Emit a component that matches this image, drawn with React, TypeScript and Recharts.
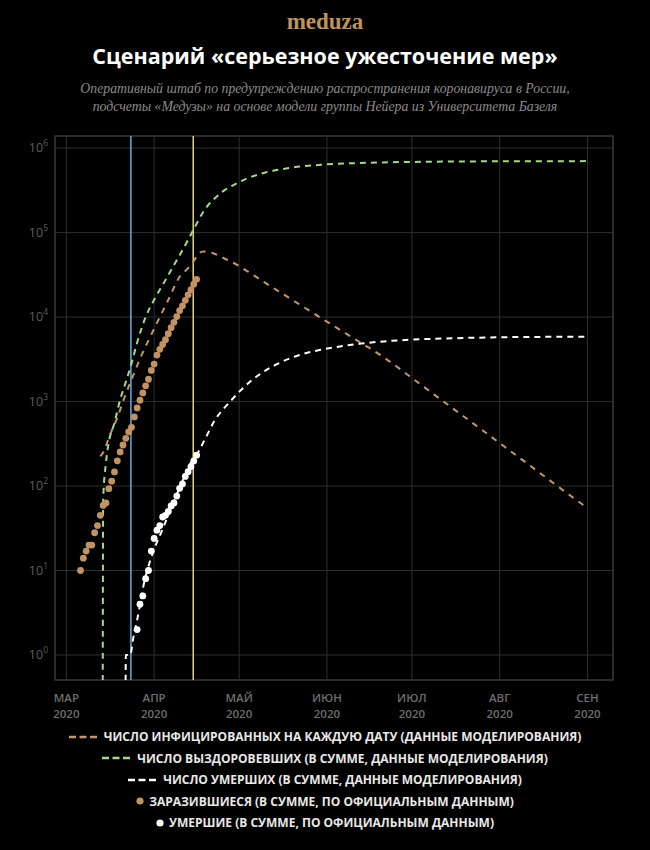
import React from 'react';
import {
  ComposedChart,
  Line,
  Scatter,
  XAxis,
  YAxis,
  CartesianGrid,
  ReferenceLine,
  ReferenceArea,
} from 'recharts';

// days counted from 1 March 2020
const monthTicks = [0, 31, 61, 92, 122, 153, 184];
const monthNames = ['МАР', 'АПР', 'МАЙ', 'ИЮН', 'ИЮЛ', 'АВГ', 'СЕН'];
const yearLabel = '2020';
const powerTicks = [1, 10, 100, 1000, 10000, 100000, 1000000];

const xDomain = [-4, 193];
const yDomain = [0.506, 1390000];

const blueMarkDay = 22.8;
const yellowMarkDay = 44.8;

// model: infected on each date
const infectedModel = [
  { day: 12, v: 225 }, { day: 13, v: 250 }, { day: 14, v: 300 }, { day: 15, v: 370 },
  { day: 16, v: 450 }, { day: 18, v: 640 }, { day: 20, v: 1000 }, { day: 22, v: 1500 },
  { day: 24, v: 2200 }, { day: 26, v: 3200 }, { day: 28, v: 4500 }, { day: 30, v: 6200 },
  { day: 33, v: 10000 }, { day: 36, v: 16000 }, { day: 40, v: 30000 }, { day: 43, v: 38000 },
  { day: 45, v: 46000 }, { day: 46, v: 52000 }, { day: 47, v: 57000 }, { day: 48, v: 59500 },
  { day: 49, v: 59800 }, { day: 50, v: 59000 }, { day: 52, v: 56500 }, { day: 56, v: 49000 },
  { day: 60, v: 42000 }, { day: 63, v: 36500 }, { day: 70, v: 25700 }, { day: 80, v: 15800 },
  { day: 90, v: 9700 }, { day: 100, v: 6000 }, { day: 112, v: 3350 }, { day: 125, v: 1600 },
  { day: 135, v: 900 }, { day: 145, v: 510 }, { day: 153, v: 322 }, { day: 165, v: 162 },
  { day: 175, v: 91 }, { day: 184, v: 55 },
];

// model: recovered, cumulative
const recoveredModel = [
  { day: 12.8, v: 0.01 }, { day: 13, v: 68 }, { day: 14, v: 190 }, { day: 15, v: 330 },
  { day: 17, v: 560 }, { day: 19, v: 1050 }, { day: 21, v: 1700 }, { day: 23, v: 2800 },
  { day: 25, v: 5000 }, { day: 28, v: 10000 }, { day: 31, v: 16000 }, { day: 34, v: 24000 },
  { day: 37, v: 36000 }, { day: 40, v: 54000 }, { day: 43, v: 82000 }, { day: 45, v: 110000 },
  { day: 48, v: 168000 }, { day: 50, v: 210000 }, { day: 53, v: 265000 }, { day: 56, v: 320000 },
  { day: 59, v: 365000 }, { day: 64, v: 440000 }, { day: 70, v: 510000 }, { day: 75, v: 555000 },
  { day: 80, v: 590000 }, { day: 90, v: 635000 }, { day: 100, v: 660000 }, { day: 112, v: 677000 },
  { day: 130, v: 690000 }, { day: 150, v: 697000 }, { day: 184, v: 701000 },
];

// model: deaths, cumulative
const deathsModel = [
  { day: 20.8, v: 0.01 }, { day: 21, v: 1 }, { day: 22.6, v: 1 }, { day: 23.5, v: 1.5 },
  { day: 25, v: 2.6 }, { day: 27.6, v: 7.5 }, { day: 30.5, v: 16 }, { day: 34, v: 31 },
  { day: 38, v: 66 }, { day: 41, v: 115 }, { day: 44, v: 190 }, { day: 46.5, v: 250 },
  { day: 49.5, v: 390 }, { day: 52.4, v: 600 }, { day: 55.5, v: 820 }, { day: 58.3, v: 1040 },
  { day: 61.5, v: 1350 }, { day: 64.7, v: 1700 }, { day: 68.9, v: 2170 }, { day: 75.2, v: 2860 },
  { day: 82.3, v: 3550 }, { day: 89.4, v: 4070 }, { day: 96, v: 4450 }, { day: 104, v: 4850 },
  { day: 112, v: 5150 }, { day: 122, v: 5400 }, { day: 140, v: 5650 }, { day: 160, v: 5800 },
  { day: 184, v: 5850 },
];

// official data, one value per day
const casesFirstDay = 5;
const officialCases = [
  10, 14, 17, 20, 20, 28, 34, 45, 59, 63, 93, 114, 147, 199, 253, 306, 367, 438, 495, 658,
  840, 1036, 1264, 1534, 1836, 2337, 2777, 3548, 4149, 4731, 5389, 6343, 7497, 8672, 10131,
  11917, 13584, 15770, 18328, 21102, 24490, 27938,
];
const deathsFirstDay = 25;
const officialDeaths = [
  2, 4, 5, 8, 10, 17, 24, 30, 34, 43, 45, 50, 58, 63, 76, 94, 106, 130, 148, 170, 198, 232,
];

const casesPoints = officialCases.map((v, i) => ({ day: casesFirstDay + i, v }));
const deathsPoints = officialDeaths.map((v, i) => ({ day: deathsFirstDay + i, v }));

const orange = '#c4976a';
const orangeDot = '#c39262';
const green = '#a3d98b';
const white = '#ffffff';

const legendItems = [
  { kind: 'dash', color: orange, text: 'ЧИСЛО ИНФИЦИРОВАННЫХ НА КАЖДУЮ ДАТУ (ДАННЫЕ МОДЕЛИРОВАНИЯ)' },
  { kind: 'dash', color: green, text: 'ЧИСЛО ВЫЗДОРОВЕВШИХ (В СУММЕ, ДАННЫЕ МОДЕЛИРОВАНИЯ)' },
  { kind: 'dash', color: white, text: 'ЧИСЛО УМЕРШИХ (В СУММЕ, ДАННЫЕ МОДЕЛИРОВАНИЯ)' },
  { kind: 'dot', color: orangeDot, text: 'ЗАРАЗИВШИЕСЯ (В СУММЕ, ПО ОФИЦИАЛЬНЫМ ДАННЫМ)' },
  { kind: 'dot', color: white, text: 'УМЕРШИЕ (В СУММЕ, ПО ОФИЦИАЛЬНЫМ ДАННЫМ)' },
];

const sans = '"Open Sans", sans-serif';

const MonthTick = (props: any) => {
  const { x, y, payload } = props;
  const idx = monthTicks.indexOf(payload.value);
  return (
    <g>
      <text x={x} y={y + 21.5} textAnchor="middle" fill="#6e6e6e" fontSize={11.5} fontWeight={600} fontFamily={sans}>
        {monthNames[idx]}
      </text>
      <text x={x} y={y + 37.5} textAnchor="middle" fill="#6e6e6e" fontSize={11.5} fontWeight={600} fontFamily={sans}>
        {yearLabel}
      </text>
    </g>
  );
};

const PowerTick = (props: any) => {
  const { x, y, payload } = props;
  const exp = Math.round(Math.log10(payload.value));
  return (
    <text x={x} y={y + 4} textAnchor="end" fill="#5e5e5e" fontSize={12.5} fontFamily={sans}>
      10
      <tspan dy={-6} fontSize={8.5}>{exp}</tspan>
    </text>
  );
};

const dotShape = (color: string) => (p: any) => <circle cx={p.cx} cy={p.cy} r={3.4} fill={color} />;

const LegendIcon = ({ kind, color }: { kind: string; color: string }) =>
  kind === 'dash' ? (
    <svg width={28} height={6} style={{ marginRight: 7 }}>
      <line x1={0} y1={3} x2={28} y2={3} stroke={color} strokeWidth={2.5} strokeDasharray="7 3.5" />
    </svg>
  ) : (
    <svg width={8} height={8} style={{ marginRight: 5 }}>
      <circle cx={4} cy={4} r={3.6} fill={color} />
    </svg>
  );

export default function App() {
  return (
    <div style={{ position: 'absolute', left: 0, top: 0, width: 650, height: 850, background: '#000', overflow: 'hidden' }}>
      <div style={{ position: 'absolute', top: 8, width: 650, textAlign: 'center', color: '#c0935a', fontFamily: '"Liberation Serif", serif', fontWeight: 700, fontSize: 23, lineHeight: '28px' }}>
        meduza
      </div>
      <div style={{ position: 'absolute', top: 41, width: 650, textAlign: 'center', color: '#fff', fontFamily: sans, fontWeight: 700, fontSize: 21.5, lineHeight: '30px' }}>
        Сценарий «серьезное ужесточение мер»
      </div>
      <div style={{ position: 'absolute', top: 80, width: 650, textAlign: 'center', color: '#8a8a8a', fontFamily: '"Liberation Serif", serif', fontStyle: 'italic', fontSize: 13.8, lineHeight: '18px' }}>
        Оперативный штаб по предупреждению распространения коронавируса в России,
        <br />
        подсчеты «Медузы» на основе модели группы Нейера из Университета Базеля
      </div>

      <div style={{ position: 'absolute', left: 0, top: 0 }}>
        <ComposedChart width={650} height={730} margin={{ top: 136, right: 37, bottom: 0, left: 10 }}>
          <CartesianGrid stroke="#2e2e2e" strokeWidth={1} />
          <XAxis
            type="number"
            dataKey="day"
            domain={xDomain}
            allowDataOverflow
            ticks={monthTicks}
            interval={0}
            tick={<MonthTick />}
            tickLine={false}
            axisLine={false}
            tickSize={0}
            tickMargin={0}
            height={50}
          />
          <YAxis
            type="number"
            dataKey="v"
            scale="log"
            domain={yDomain}
            allowDataOverflow
            ticks={powerTicks}
            interval={0}
            tick={<PowerTick />}
            tickLine={false}
            axisLine={false}
            tickSize={0}
            tickMargin={7}
            width={45}
          />
          <ReferenceArea x1={xDomain[0]} x2={xDomain[1]} y1={yDomain[0]} y2={yDomain[1]} fill="none" stroke="#333" strokeWidth={1.5} />
          <ReferenceLine x={blueMarkDay} stroke="#5ab3e4" strokeWidth={1.5} />
          <ReferenceLine x={yellowMarkDay} stroke="#e6d56e" strokeWidth={1.5} />
          <Line data={infectedModel} dataKey="v" type="monotone" stroke={orange} strokeWidth={2} strokeDasharray="6 6" dot={false} isAnimationActive={false} />
          <Line data={recoveredModel} dataKey="v" type="monotone" stroke={green} strokeWidth={2} strokeDasharray="6 5" dot={false} isAnimationActive={false} />
          <Line data={deathsModel} dataKey="v" type="monotone" stroke={white} strokeWidth={2} strokeDasharray="6 5" dot={false} isAnimationActive={false} />
          <Scatter data={casesPoints} dataKey="v" shape={dotShape(orangeDot)} isAnimationActive={false} />
          <Scatter data={deathsPoints} dataKey="v" shape={dotShape(white)} isAnimationActive={false} />
        </ComposedChart>
      </div>

      <div style={{ position: 'absolute', top: 726, left: 0, width: 650 }}>
        {legendItems.map((item) => (
          <div
            key={item.text}
            style={{ height: 21.5, display: 'flex', alignItems: 'center', justifyContent: 'center', color: '#e8e8e8', fontFamily: sans, fontWeight: 700, fontSize: 12 }}
          >
            <LegendIcon kind={item.kind} color={item.color} />
            <span>{item.text}</span>
          </div>
        ))}
      </div>
    </div>
  );
}
